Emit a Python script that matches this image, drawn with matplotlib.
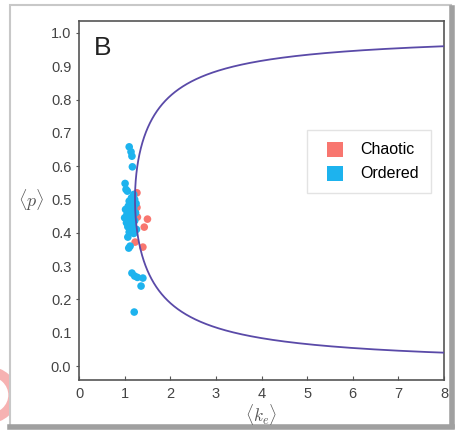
import numpy as np
import matplotlib.pyplot as plt
from matplotlib.patches import Rectangle, Circle
from matplotlib.path import Path
from matplotlib.transforms import Affine2D

plt.rcParams['font.family'] = ['Liberation Sans', 'DejaVu Sans']
plt.rcParams['mathtext.fontset'] = 'cm'

# ordered networks (blue)
ordered_k = [1.10, 1.14, 1.16, 1.17, 1.01, 1.03, 1.06,
             1.20, 1.15, 1.22, 1.10, 1.18, 1.25, 1.08, 1.14, 1.20, 1.02,
             1.11, 1.17, 1.24, 1.05, 1.13, 1.19, 1.00, 1.09, 1.15, 1.22,
             1.04, 1.12, 1.18, 1.07, 1.14, 1.26, 1.10, 1.20, 1.07, 1.12,
             1.09, 1.16, 1.22, 1.28, 1.40, 1.36, 1.21]
ordered_p = [0.658, 0.643, 0.630, 0.598, 0.548, 0.530, 0.525,
             0.515, 0.505, 0.500, 0.495, 0.490, 0.488, 0.480, 0.478, 0.475, 0.470,
             0.468, 0.462, 0.460, 0.455, 0.452, 0.448, 0.445, 0.442, 0.438, 0.436,
             0.430, 0.428, 0.422, 0.418, 0.412, 0.410, 0.402, 0.398, 0.387, 0.360,
             0.354, 0.279, 0.270, 0.266, 0.264, 0.240, 0.162]

# chaotic networks (red)
chaotic_k = [1.27, 1.27, 1.28, 1.50, 1.43, 1.16, 1.13, 1.23, 1.40]
chaotic_p = [0.520, 0.476, 0.447, 0.441, 0.417, 0.430, 0.408, 0.372, 0.357]

# critical boundary  k_c = 1 / (c * p * (1 - p)), c
crit_c = 3.26

red = '#F8766F'
blue = '#1DB3EE'
line_col = '#5A4AA8'

fig = plt.figure(figsize=(4.58, 4.30), dpi=100)

# screenshot-like frame and the red blob at the lower left
fig.patches.append(Circle((-12 / 458, 1 - 395 / 430), 0.055, transform=fig.transFigure,
                          fill=False, edgecolor='#f08080', lw=7, alpha=0.6, zorder=0))
fig.patches.append(Rectangle((10 / 458, 1 - 426 / 430), 441 / 458, 421 / 430, transform=fig.transFigure,
                             facecolor='white', edgecolor='#c8c8c8', lw=1.5, zorder=1))
fig.add_artist(plt.Line2D([452 / 458, 452 / 458], [1 - 426 / 430, 1 - 8 / 430],
                          transform=fig.transFigure, color='#a0a0a0', lw=4, zorder=2))
fig.add_artist(plt.Line2D([10 / 458, 452 / 458], [1 - 427 / 430, 1 - 427 / 430],
                          transform=fig.transFigure, color='#a0a0a0', lw=4, zorder=2))

ax = fig.add_axes([0.1725, 0.1163, 0.797, 0.835])
ax.set_zorder(3)

ax.scatter(chaotic_k, chaotic_p, s=30, color=red, edgecolors='none', label='Chaotic', zorder=2)
ax.scatter(ordered_k, ordered_p, s=30, color=blue, edgecolors='none', label='Ordered', zorder=3)

p = np.linspace(0.001, 0.999, 2000)
k = 1.0 / (crit_c * p * (1 - p))
ax.plot(k, p, color=line_col, lw=1.3, zorder=4)

ax.set_xlim(0, 8)
ax.set_ylim(-0.042, 1.036)
ax.set_xticks(range(0, 9))
ax.set_yticks(np.arange(0, 1.01, 0.2))
ax.set_yticks(np.arange(0.1, 1.0, 0.2), minor=True)
ax.set_yticklabels(['%.1f' % v for v in np.arange(0, 1.01, 0.2)])
ax.set_yticklabels(['%.1f' % v for v in np.arange(0.1, 1.0, 0.2)], minor=True)
ax.tick_params(axis='x', direction='in', length=3, colors='#555555', labelsize=10.5, pad=5)
ax.tick_params(axis='y', which='major', direction='out', length=2.5, colors='#555555', labelsize=10.5, pad=3)
ax.tick_params(axis='y', which='minor', length=0, colors='#555555', labelsize=10.5, pad=5.5)
for lab in ax.get_xticklabels() + ax.get_yticklabels() + ax.get_yticklabels(minor=True):
    lab.set_color('#444444')
for sp in ax.spines.values():
    sp.set_color('#555555')
    sp.set_linewidth(1.2)

ax.set_xlabel(r'$\langle k_e \rangle$', fontsize=12.5, color='#555555', labelpad=1)
ax.set_ylabel(r'$\langle p \rangle$', fontsize=13, color='#555555', rotation=0, labelpad=14, va='center')

ax.text(0.04, 0.905, 'B', transform=ax.transAxes, fontsize=19, color='#222222')

leg = ax.legend(loc='upper left', bbox_to_anchor=(0.625, 0.696), frameon=True, fancybox=False,
                handletextpad=0.6, labelspacing=0.55, fontsize=11.5, borderpad=0.75,
                borderaxespad=0.0)
leg.get_frame().set_edgecolor('#dddddd')
leg.get_frame().set_linewidth(1.0)
square = Path.unit_rectangle().transformed(Affine2D().translate(-0.5, -0.5))
for h in leg.legend_handles:
    h.set_sizes([120])
    h.set_paths([square])

fig.savefig('out.png', dpi=100)
